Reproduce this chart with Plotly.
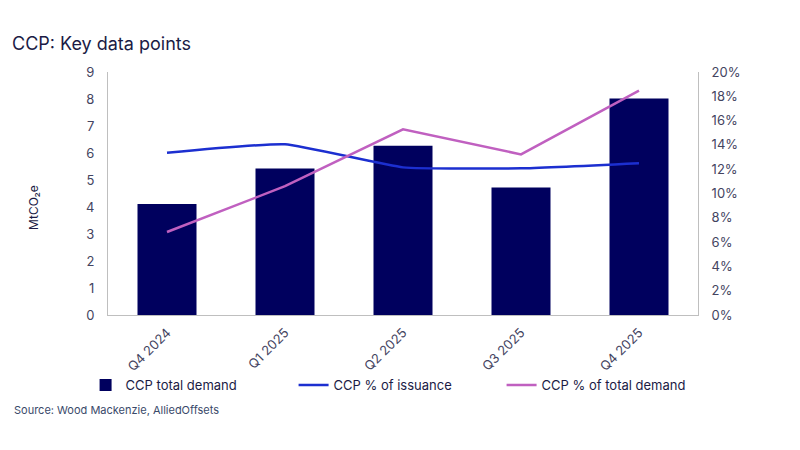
import plotly.graph_objects as go

# quarters on the x axis
quarters = ["Q4 2024", "Q1 2025", "Q2 2025", "Q3 2025", "Q4 2025"]

# CCP total demand (MtCO2e), left axis
total_demand = [4.11, 5.43, 6.27, 4.72, 8.02]

# shares in %, right axis
pct_issuance = [13.35, 14.05, 12.15, 12.07, 12.5]
pct_total_demand = [6.83, 10.6, 15.28, 13.22, 18.46]

navy = "#00005e"
text_col = "#1b1b45"
tick_col = "#44445f"
axis_col = "#bfbfbf"

fig = go.Figure()

fig.add_trace(go.Bar(
    x=quarters, y=total_demand, name="CCP total demand",
    marker=dict(color=navy, line=dict(width=0)), width=0.5,
))
fig.add_trace(go.Scatter(
    x=quarters, y=pct_issuance, name="CCP % of issuance", yaxis="y2",
    mode="lines", line=dict(color="#1c2fd0", width=2.5, shape="spline", smoothing=0.4),
))
fig.add_trace(go.Scatter(
    x=quarters, y=pct_total_demand, name="CCP % of total demand", yaxis="y2",
    mode="lines", line=dict(color="#c060c0", width=2.5),
))

# page has an 8px body margin, so positions are shifted up/left by 8
fig.update_layout(
    width=800, height=450,
    margin=dict(l=100, r=110, t=64, b=143, autoexpand=False),
    plot_bgcolor="white", paper_bgcolor="white",
    font=dict(family="Inter, Open Sans, sans-serif", color=tick_col, size=13),
    title=dict(text="CCP: Key data points", x=0.005, xanchor="left", y=0.92, yanchor="middle",
               font=dict(size=18, color=text_col)),
    bargap=0.5,
    showlegend=True,
    legend=dict(orientation="h", x=-0.038, y=-0.288, xanchor="left", yanchor="middle",
                entrywidth=163, entrywidthmode="pixels",
                font=dict(size=13, color=text_col), traceorder="normal",
                itemwidth=30),
    xaxis=dict(
        showline=True, linecolor=axis_col, linewidth=1, mirror=False,
        tickangle=-45, ticks="", showgrid=False, ticklabelstandoff=4,
        tickfont=dict(size=13, color=tick_col),
    ),
    yaxis=dict(
        range=[0, 9], dtick=1, showgrid=False, zeroline=False,
        showline=True, linecolor=axis_col, linewidth=1, ticks="",
        ticklabelstandoff=10,
    ),
    yaxis2=dict(
        range=[0, 20], dtick=2, overlaying="y", side="right", showgrid=False,
        zeroline=False, showline=True, linecolor=axis_col, linewidth=1, ticks="",
        ticksuffix="%", ticklabelstandoff=10,
    ),
)

fig.add_annotation(
    text="MtCO₂e", xref="paper", yref="paper", textangle=-90,
    x=-75 / 590, y=(307 - 200) / 243, xanchor="center", yanchor="middle",
    showarrow=False, font=dict(size=12, color=text_col),
)

fig.add_annotation(
    text="Source: Wood Mackenzie, AlliedOffsets", xref="paper", yref="paper",
    x=-0.163, y=-0.391, xanchor="left", yanchor="middle", showarrow=False,
    font=dict(size=11, color="#3a4a6a"),
)

fig.write_html("out.html")
